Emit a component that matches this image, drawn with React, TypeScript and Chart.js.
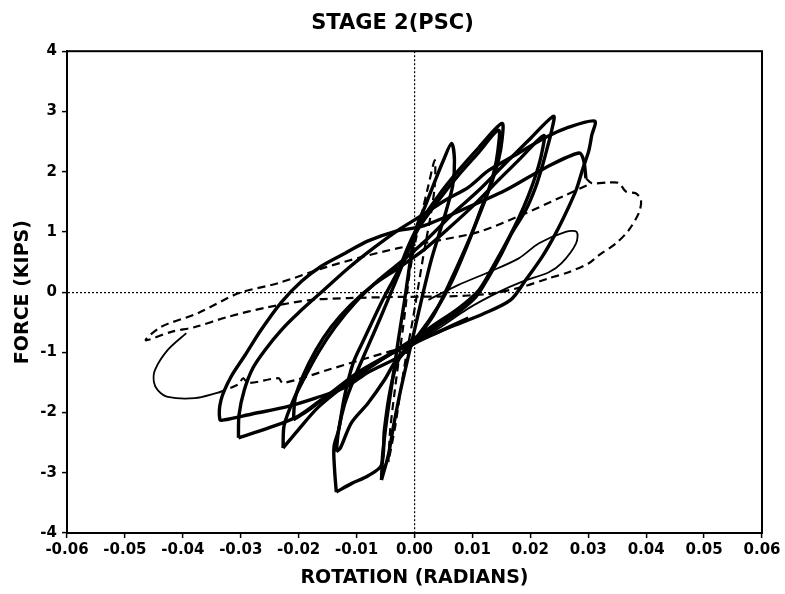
import React, { useEffect, useRef } from "react";
import { Chart, registerables } from "chart.js";

Chart.register(...registerables);

const TITLE = "STAGE 2(PSC)";
const X_TITLE = "ROTATION (RADIANS)";
const Y_TITLE = "FORCE (KIPS)";
const X_RANGE = [-0.06, 0.06];
const Y_RANGE = [-4, 4];
const X_STEP = 0.01;
const Y_STEP = 1;

// small dashed cycle near the origin
const loopH_rot = [-0.0045, -0.0042, -0.0035, -0.0026, -0.0017, -0.0009, 0.0002, 0.0014, 0.0024, 0.0035, 0.0035, 0.0028, 0.0017, 0.0007, -0.0003, -0.0014, -0.0024, -0.0033, -0.0045];
const loopH_force = [-2.82, -2.29, -1.71, -1.04, -0.38, 0.28, 0.86, 1.36, 1.77, 2.19, 1.77, 1.28, 0.7, 0.12, -0.46, -1.04, -1.63, -2.21, -2.82];

const loopG_rot = [-0.0057, -0.0055, -0.0048, -0.0038, -0.0028, -0.0017, -0.0007, 0.0003, 0.0019, 0.0036, 0.005, 0.0064, 0.0069, 0.0066, 0.0055, 0.0042, 0.0028, 0.0014, 0.0, -0.001, -0.0024, -0.0036, -0.0045, -0.0057];
const loopG_force = [-3.12, -2.7, -2.12, -1.46, -0.8, -0.13, 0.53, 1.06, 1.44, 1.86, 2.19, 2.47, 2.19, 1.77, 1.36, 0.95, 0.5, -0.05, -0.63, -1.04, -1.63, -2.21, -2.7, -3.12];

const loopF_rot = [-0.0135, -0.0138, -0.0139, -0.0131, -0.0121, -0.0106, -0.0088, -0.0055, -0.0028, -0.001, 0.001, 0.0042, 0.0076, 0.0111, 0.0151, 0.0151, 0.0145, 0.0133, 0.0116, 0.0099, 0.0081, 0.0059, 0.0033, -0.0005, -0.0028, -0.0042, -0.0052, -0.0057, -0.008, -0.0109, -0.0135];
const loopF_force = [-3.32, -2.95, -2.57, -2.29, -1.74, -1.18, -0.8, -0.13, 0.36, 0.78, 1.16, 1.61, 2.02, 2.4, 2.8, 2.52, 2.19, 1.81, 1.41, 0.98, 0.58, 0.12, -0.38, -0.88, -1.13, -1.63, -2.29, -2.87, -3.05, -3.18, -3.32];

const loopE_rot = [-0.0135, -0.0131, -0.0121, -0.0104, -0.0083, -0.0059, -0.0035, -0.0014, 0.0007, 0.0042, 0.0076, 0.0111, 0.0145, 0.0144, 0.0137, 0.0125, 0.0107, 0.0088, 0.0067, 0.0042, 0.0007, -0.0031, -0.0052, -0.008, -0.0109, -0.0128, -0.0135];
const loopE_force = [-2.65, -2.29, -1.87, -1.43, -0.96, -0.43, 0.12, 0.61, 1.06, 1.53, 1.94, 2.32, 2.69, 2.35, 1.99, 1.61, 1.16, 0.7, 0.23, -0.22, -0.71, -1.12, -1.46, -1.84, -2.17, -2.59, -2.65];

const loopC_rot = [-0.0227, -0.0225, -0.0209, -0.0192, -0.0166, -0.0137, -0.0102, -0.0062, -0.0016, 0.0024, 0.0067, 0.0111, 0.0154, 0.0197, 0.024, 0.0237, 0.0228, 0.022, 0.0209, 0.0192, 0.0168, 0.0151, 0.0128, 0.0106, 0.0076, 0.0042, -0.0005, -0.0036, -0.008, -0.0119, -0.0166, -0.0201, -0.0227];
const loopC_force = [-2.59, -2.21, -1.79, -1.46, -1.0, -0.58, -0.17, 0.2, 0.56, 0.9, 1.31, 1.69, 2.11, 2.52, 2.92, 2.69, 2.35, 2.07, 1.74, 1.36, 0.98, 0.65, 0.25, -0.08, -0.33, -0.55, -0.85, -1.0, -1.26, -1.54, -1.91, -2.29, -2.59];

const loopD_rot = [-0.0209, -0.0206, -0.0192, -0.017, -0.0144, -0.0111, -0.0071, -0.0028, 0.0016, 0.0059, 0.0102, 0.0145, 0.0183, 0.0223, 0.022, 0.0211, 0.0197, 0.018, 0.0159, 0.0137, 0.0111, 0.0076, 0.0033, -0.0005, -0.0045, -0.0097, -0.0149, -0.0183, -0.0209];
const loopD_force = [-2.12, -1.76, -1.38, -0.96, -0.58, -0.22, 0.12, 0.4, 0.7, 1.06, 1.44, 1.86, 2.22, 2.6, 2.32, 1.99, 1.61, 1.23, 0.83, 0.45, 0.03, -0.27, -0.55, -0.8, -1.04, -1.33, -1.71, -1.96, -2.12];

const loopB_rot = [-0.0304, -0.0303, -0.0294, -0.0279, -0.0258, -0.023, -0.0201, -0.0157, -0.0114, -0.0071, -0.0028, 0.0007, 0.0054, 0.0093, 0.0128, 0.018, 0.0227, 0.0261, 0.0311, 0.0306, 0.0301, 0.0291, 0.028, 0.0266, 0.0244, 0.022, 0.0192, 0.0166, 0.0119, 0.0062, -0.0002, -0.0036, -0.0071, -0.0114, -0.0157, -0.0201, -0.0253, -0.0304];
const loopB_force = [-2.42, -2.04, -1.63, -1.26, -0.96, -0.63, -0.35, 0.03, 0.4, 0.73, 1.03, 1.24, 1.53, 1.74, 2.02, 2.31, 2.57, 2.72, 2.84, 2.6, 2.35, 2.06, 1.72, 1.41, 0.98, 0.58, 0.2, -0.13, -0.36, -0.58, -0.83, -1.0, -1.21, -1.49, -1.76, -2.06, -2.26, -2.42];

const loopA_rot = [0.0093, 0.0042, -0.0005, -0.0028, -0.008, -0.0119, -0.0171, -0.0223, -0.0279, -0.0327, -0.0336, -0.0334, -0.0317, -0.0292, -0.0265, -0.023, -0.0195, -0.0161, -0.0119, -0.008, -0.0033, 0.0012, 0.0081, 0.0157, 0.0227, 0.0284, 0.0292, 0.0296];
const loopA_force = [-0.43, -0.66, -0.88, -1.08, -1.33, -1.58, -1.76, -1.91, -2.02, -2.12, -2.12, -1.79, -1.41, -1.04, -0.63, -0.17, 0.18, 0.43, 0.65, 0.85, 1.01, 1.09, 1.36, 1.69, 2.07, 2.31, 2.19, 1.89];

// outer dashed cycle
const outer_rot = [0.0296, 0.0306, 0.0336, 0.0353, 0.0365, 0.0382, 0.0391, 0.0388, 0.037, 0.0348, 0.0318, 0.0301, 0.0266, 0.0232, 0.018, 0.0128, 0.0059, -0.0028, -0.0114, -0.0178, -0.0253, -0.0322, -0.0379, -0.042, -0.0464, -0.0438, -0.0374, -0.0304, -0.0235, -0.0154, -0.0092, -0.0028, 0.0042, 0.0111, 0.0192, 0.0254, 0.0306];
const outer_force = [1.89, 1.81, 1.82, 1.81, 1.67, 1.64, 1.53, 1.33, 1.03, 0.81, 0.61, 0.48, 0.33, 0.23, 0.07, -0.03, -0.07, -0.08, -0.1, -0.13, -0.25, -0.41, -0.58, -0.66, -0.8, -0.58, -0.35, -0.02, 0.15, 0.41, 0.58, 0.73, 0.86, 1.0, 1.31, 1.58, 1.81];

// last thin cycle
const tailA_rot = [-0.0394, -0.0426, -0.0448, -0.045, -0.0443, -0.0426, -0.0379, -0.0339];
const tailA_force = [-0.68, -0.96, -1.29, -1.49, -1.63, -1.74, -1.76, -1.67];
const tailB_rot = [-0.0339, -0.0304, -0.0296, -0.0287, -0.0235, -0.0227, -0.0149, -0.008, -0.0005];
const tailB_force = [-1.67, -1.53, -1.43, -1.51, -1.43, -1.51, -1.29, -1.09, -0.88];
const tailC_rot = [-0.0005, 0.0042, 0.0093, 0.0145, 0.0185, 0.0232, 0.0254, 0.0279, 0.028, 0.0261, 0.0215, 0.018, 0.0128, 0.0076, 0.0024];
const tailC_force = [-0.88, -0.6, -0.27, 0.0, 0.17, 0.33, 0.48, 0.81, 1.0, 1.0, 0.81, 0.56, 0.33, 0.12, -0.13];

const FONT = "'DejaVu Sans', 'Liberation Sans', sans-serif";

const zip = (xs: number[], ys: number[]) => xs.map((x, i) => ({ x, y: ys[i] }));

type Style = "thick" | "dashed" | "thin";
const series: [number[], number[], Style][] = [
  [loopH_rot, loopH_force, "dashed"],
  [loopG_rot, loopG_force, "thick"],
  [loopF_rot, loopF_force, "thick"],
  [loopE_rot, loopE_force, "thick"],
  [loopC_rot, loopC_force, "thick"],
  [loopD_rot, loopD_force, "thick"],
  [loopB_rot, loopB_force, "thick"],
  [loopA_rot, loopA_force, "thick"],
  [outer_rot, outer_force, "dashed"],
  [tailA_rot, tailA_force, "thin"],
  [tailB_rot, tailB_force, "dashed"],
  [tailC_rot, tailC_force, "thin"],
];

const framePlugin = {
  id: "frame",
  afterDraw(chart: any) {
    const { ctx, chartArea } = chart;
    ctx.save();
    ctx.strokeStyle = "#000";
    ctx.lineWidth = 2;
    ctx.strokeRect(chartArea.left, chartArea.top, chartArea.right - chartArea.left, chartArea.bottom - chartArea.top);
    ctx.restore();
  },
};

export default function App() {
  const ref = useRef<HTMLCanvasElement | null>(null);

  useEffect(() => {
    if (!ref.current) return;
    const datasets = series.map(([xs, ys, style]) => ({
      data: zip(xs, ys),
      showLine: true,
      borderColor: "#000",
      backgroundColor: "#000",
      borderWidth: style === "thick" ? 3.4 : style === "dashed" ? 2.2 : 1.8,
      borderDash: style === "dashed" ? [8, 5] : [],
      pointRadius: 0,
      fill: false,
      tension: 0.3,
    }));

    const zeroColor = (ctx: any) =>
      ctx.tick && Math.abs(ctx.tick.value) < 1e-9 ? "#000" : "rgba(0,0,0,0)";

    const chart = new Chart(ref.current, {
      type: "scatter",
      data: { datasets },
      options: {
        animation: false,
        responsive: false,
        devicePixelRatio: 1,
        layout: { padding: 0 },
        plugins: {
          legend: { display: false },
          tooltip: { enabled: false },
          title: {
            display: true,
            text: TITLE,
            color: "#000",
            font: { family: FONT, size: 21, weight: "bold" },
            padding: { top: 11, bottom: 15 },
          },
        },
        scales: {
          x: {
            type: "linear",
            min: X_RANGE[0],
            max: X_RANGE[1],
            afterFit: (s: any) => {
              s.height = 61;
              s.paddingRight = 23;
            },
            ticks: {
              stepSize: X_STEP,
              color: "#000",
              padding: 3,
              font: { family: FONT, size: 15, weight: "bold" },
              maxRotation: 0,
              autoSkip: false,
              callback: (v: any) => (Math.abs(Number(v)) < 1e-9 ? "0.00" : Number(v).toFixed(2)),
            },
            grid: {
              display: true,
              drawOnChartArea: true,
              drawTicks: true,
              tickLength: 5,
              tickWidth: 1.5,
              tickColor: "#000",
              lineWidth: 1.2,
              color: zeroColor,
            },
            border: { display: true, color: "#000", width: 2, dash: [2, 2] },
            title: {
              display: true,
              text: X_TITLE,
              color: "#000",
              font: { family: FONT, size: 19, weight: "bold" },
              padding: { top: 0, bottom: 5 },
            },
          },
          y: {
            type: "linear",
            min: Y_RANGE[0],
            max: Y_RANGE[1],
            afterFit: (s: any) => {
              s.width = 67;
            },
            ticks: {
              stepSize: Y_STEP,
              color: "#000",
              padding: 5,
              font: { family: FONT, size: 15, weight: "bold" },
              callback: (v: any) => String(Math.round(Number(v))),
            },
            grid: {
              display: true,
              drawOnChartArea: true,
              drawTicks: true,
              tickLength: 5,
              tickWidth: 1.5,
              tickColor: "#000",
              lineWidth: 1.2,
              color: zeroColor,
            },
            border: { display: true, color: "#000", width: 2, dash: [2, 2] },
            title: {
              display: true,
              text: Y_TITLE,
              color: "#000",
              font: { family: FONT, size: 19, weight: "bold" },
              padding: { top: 12, bottom: 0 },
            },
          },
        },
      } as any,
      plugins: [framePlugin],
    });
    return () => chart.destroy();
  }, []);

  return (
    <div style={{ position: "absolute", left: 0, top: 0, width: 785, height: 594, background: "#fff" }}>
      <canvas ref={ref} width={785} height={594} style={{ display: "block" }} />
    </div>
  );
}
